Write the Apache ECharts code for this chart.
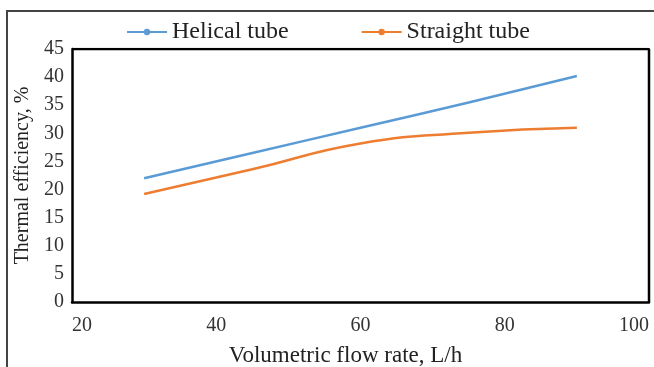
<!DOCTYPE html>
<html>
<head>
<meta charset="utf-8">
<script src="https://cdn.jsdelivr.net/npm/echarts@6/dist/echarts.min.js"></script>
<style>
  html, body { margin: 0; padding: 0; background: #fff; }
  #chart { width: 654px; height: 367px; }
</style>
</head>
<body>
<div id="chart"></div>
<script>
// flow rate, L/h
var flowRate = [30, 45, 60, 75, 90];
// thermal efficiency, %
var helical = [22, 26.5, 31, 35.5, 40.2];
var straight = [19.2, 23.6, 28.2, 30.1, 31];
var seriesNames = ['Helical tube', 'Straight tube'];

function pairs(ys) {
  return flowRate.map(function (x, i) { return [x, ys[i]]; });
}

var font = '"Liberation Serif", "DejaVu Serif", serif';
var myChart = echarts.init(document.getElementById('chart'));

myChart.setOption({
  animation: false,
  color: ['#5B9BD5', '#ED7D31'],
  textStyle: { fontFamily: font },
  grid: { left: 72, right: 5, top: 49, bottom: 65, containLabel: false, outerBoundsMode: 'none' },
  legend: {
    data: seriesNames,
    top: 15,
    left: 121,
    itemGap: 72,
    itemWidth: 40,
    itemHeight: 8,
    textStyle: { fontFamily: font, fontSize: 24, color: '#222' }
  },
  graphic: [
    {
      type: 'polyline',
      silent: true,
      shape: { points: [[7, 367], [7, 11], [654, 11]] },
      style: { stroke: '#444', lineWidth: 2, fill: null }
    }
  ],
  xAxis: {
    type: 'value',
    min: 20, max: 100, interval: 20,
    name: 'Volumetric flow rate, L/h',
    nameLocation: 'middle',
    nameGap: 42,
    nameTextStyle: { fontFamily: font, fontSize: 23, color: '#222', padding: [0, 30, 0, 0] },
    axisLine: { show: true, lineStyle: { color: '#000', width: 2.5 } },
    axisTick: { show: false },
    splitLine: { show: false },
    axisLabel: {
      fontFamily: font, fontSize: 20, color: '#333', margin: 14,
      alignMinLabel: 'left', alignMaxLabel: 'right'
    }
  },
  yAxis: {
    type: 'value',
    min: 0, max: 45, interval: 5,
    name: 'Thermal efficiency, %',
    nameLocation: 'middle',
    nameGap: 39,
    nameTextStyle: { fontFamily: font, fontSize: 20, color: '#222' },
    axisLine: { show: true, lineStyle: { color: '#000', width: 2.5 } },
    axisTick: { show: false },
    splitLine: { show: false },
    axisLabel: { fontFamily: font, fontSize: 20, color: '#333', margin: 8 }
  },
  series: [
    {
      name: seriesNames[0],
      type: 'line',
      smooth: true,
      symbol: 'circle',
      symbolSize: 5,
      showSymbol: false,
      lineStyle: { width: 2.5 },
      data: pairs(helical)
    },
    {
      name: seriesNames[1],
      type: 'line',
      smooth: true,
      symbol: 'circle',
      symbolSize: 5,
      showSymbol: false,
      lineStyle: { width: 2.5 },
      data: pairs(straight)
    },
    {
      // closes the plot box on top and right
      type: 'line',
      silent: true,
      symbol: 'none',
      lineStyle: { color: '#000', width: 2.5 },
      data: [[20, 45], [100, 45], [100, 0]],
      tooltip: { show: false }
    }
  ]
});
</script>
</body>
</html>
